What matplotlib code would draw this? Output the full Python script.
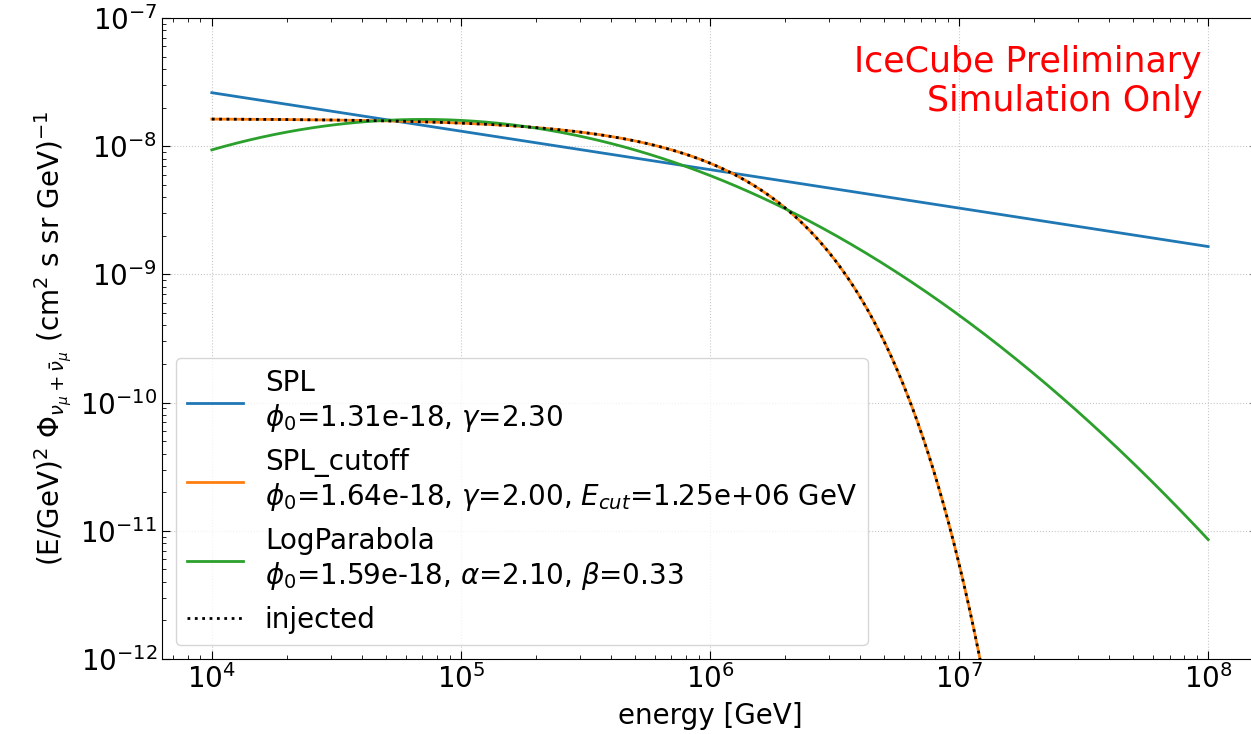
import numpy as np
import matplotlib
matplotlib.use('Agg')
from matplotlib import pyplot as plt

# fitted flux parameters (E0 = 100 TeV normalisation)
E0 = 1e5
spl_par = [1.31e-18, 2.30]                 # phi0, gamma
cut_par = [1.64e-18, 2.00, 1.25e6]         # phi0, gamma, Ecut [GeV]
lp_par = [1.59e-18, 2.10, 0.33]            # phi0, alpha, beta

energy = np.logspace(4, 8, 400)

def spl(E, phi0, gamma):
    return phi0*(E/E0)**(-gamma)

def spl_cutoff(E, phi0, gamma, ecut):
    return phi0*(E/E0)**(-gamma)*np.exp(-E/ecut)

def log_parabola(E, phi0, alpha, beta):
    return phi0*(E/E0)**(-alpha - beta*np.log10(E/E0))

flux_spl = energy**2*spl(energy, *spl_par)
flux_cut = energy**2*spl_cutoff(energy, *cut_par)
flux_lp = energy**2*log_parabola(energy, *lp_par)
flux_inj = energy**2*spl_cutoff(energy, *cut_par)

lab_spl = 'SPL\n' + r'$\phi_0$=%.2e, $\gamma$=%.2f' % (spl_par[0], spl_par[1])
lab_cut = 'SPL_cutoff\n' + r'$\phi_0$=%.2e, $\gamma$=%.2f, $E_{cut}$=%.2e GeV' % (cut_par[0], cut_par[1], cut_par[2])
lab_lp = 'LogParabola\n' + r'$\phi_0$=%.2e, $\alpha$=%.2f, $\beta$=%.2f' % (lp_par[0], lp_par[1], lp_par[2])

fig = plt.figure(figsize=(12.51, 7.34), dpi=100)
ax = fig.add_axes([162/1251, 75/734, 1096/1251, 641/734])

ax.plot(energy, flux_spl, color='C0', lw=2, label=lab_spl)
ax.plot(energy, flux_cut, color='C1', lw=2, label=lab_cut)
ax.plot(energy, flux_lp, color='C2', lw=2, label=lab_lp)
ax.plot(energy, flux_inj, ':', color='k', lw=2, label='injected')

ax.set_xscale('log')
ax.set_yscale('log')
ax.set_xlim(10**3.8, 10**8.2)
ax.set_ylim(1e-12, 1e-7)
ax.grid(linestyle=':', color='#c8c8c8')
ax.tick_params(which='both', direction='in', top=True, right=True, labelsize=20)
ax.tick_params(which='major', length=6)
ax.tick_params(which='minor', length=3)

ax.set_xlabel('energy [GeV]', fontsize=20, labelpad=6)
ax.set_ylabel(r'(E/GeV)$^2$ $\Phi_{\nu_\mu + \bar{\nu}_\mu}$ (cm$^2$ s sr GeV)$^{-1}$', fontsize=20)

ax.text(0.949, 0.958, 'IceCube Preliminary\nSimulation Only', color='red', fontsize=25,
        ha='right', va='top', multialignment='right', transform=ax.transAxes)

ax.legend(loc='lower left', fontsize=20)
fig.savefig('out.png', dpi=100)
plt.close()
